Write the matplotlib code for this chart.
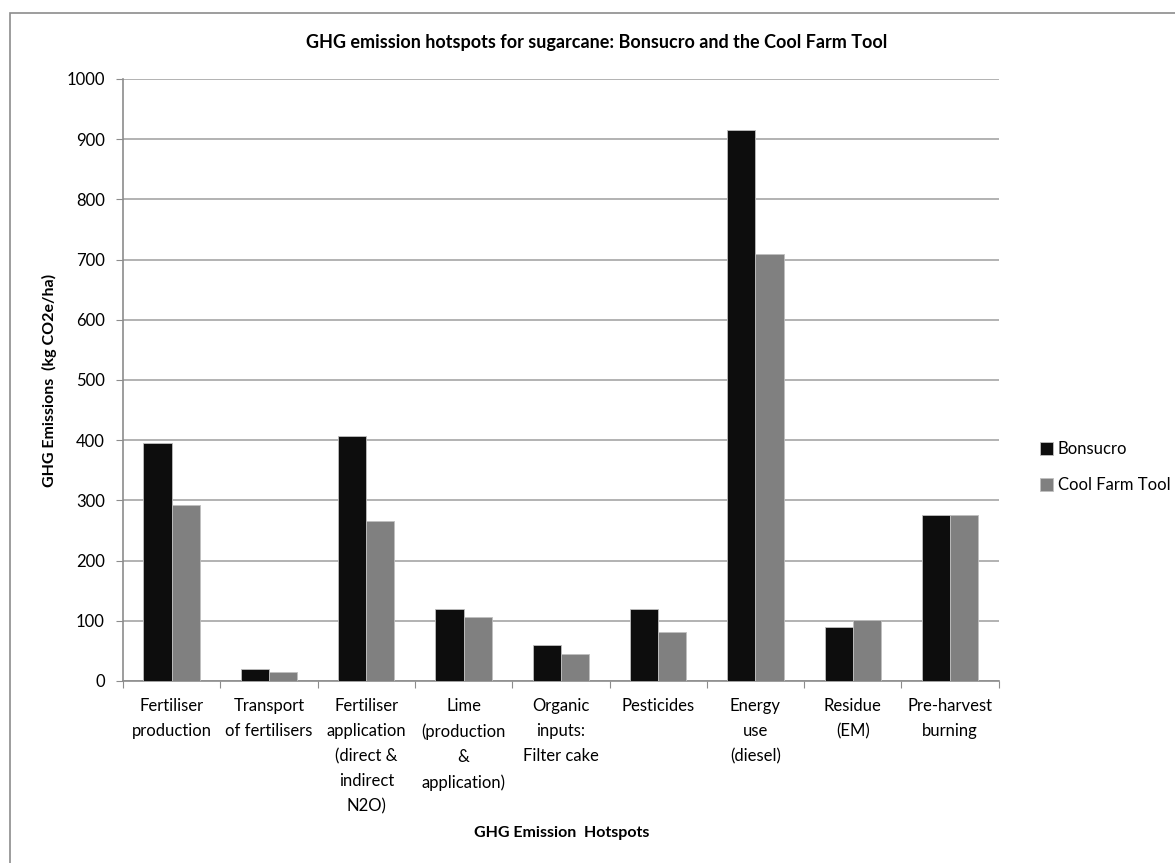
import numpy as np
import matplotlib.pyplot as plt
from matplotlib.patches import Rectangle

plt.rcParams['font.family'] = ['Lato', 'DejaVu Sans']

categories = ["Fertiliser\nproduction", "Transport\nof fertilisers",
              "Fertiliser\napplication\n(direct &\nindirect\nN2O)",
              "Lime\n(production\n&\napplication)", "Organic\ninputs:\nFilter cake",
              "Pesticides", "Energy\nuse\n(diesel)", "Residue\n(EM)", "Pre-harvest\nburning"]
bonsucro = [395, 20, 407, 120, 60, 120, 915, 90, 275]
cool_farm = [292, 15, 266, 106, 45, 81, 709, 101, 275]
yticks = [0, 100, 200, 300, 400, 500, 600, 700, 800, 900, 1000]

fig = plt.figure(figsize=(11.75, 8.63), dpi=100)
ax = fig.add_axes([0.1047, 0.2109, 0.7453, 0.6976])

# outer chart frame
fig.patches.append(Rectangle((0.0085, -0.05), 1.1, 1.035, transform=fig.transFigure,
                             fill=False, edgecolor='#8c8c8c', linewidth=1.2))

x = np.arange(len(categories))
w = 0.29
ax.bar(x - w / 2, bonsucro, w, color='#0d0d0d', edgecolor='#bfbfbf', linewidth=0.6,
       label='Bonsucro', zorder=3)
ax.bar(x + w / 2, cool_farm, w, color='#808080', edgecolor='#bfbfbf', linewidth=0.6,
       label='Cool Farm Tool', zorder=3)

ax.set_xlim(-0.5, len(categories) - 0.5)
ax.set_ylim(0, 1000)
ax.set_yticks(yticks)
ax.yaxis.grid(True, color='#a6a6a6', linewidth=1.2, zorder=0)
ax.set_axisbelow(True)

ax.set_xticks(np.arange(len(categories) + 1) - 0.5)
ax.set_xticklabels([])
ax.set_xticks(x, minor=True)
ax.set_xticklabels(categories, minor=True, fontsize=12, linespacing=1.7, va='top')
ax.tick_params(axis='x', which='minor', length=0, pad=12)
ax.tick_params(axis='x', which='major', length=5, color='#8c8c8c', direction='out')
ax.tick_params(axis='y', length=5, color='#8c8c8c', labelsize=12, pad=8)

for s in ['top', 'right']:
    ax.spines[s].set_visible(False)
for s in ['left', 'bottom']:
    ax.spines[s].set_color('#8c8c8c')
    ax.spines[s].set_linewidth(1.2)

fig.text(0.508, 0.951, "GHG emission hotspots for sugarcane: Bonsucro and the Cool Farm Tool",
         ha='center', va='center', fontsize=13, fontweight='bold')
ax.set_ylabel("GHG Emissions  (kg CO2e/ha)", fontsize=11.5, fontweight='bold', labelpad=7)
fig.text(0.478, 0.035, "GHG Emission  Hotspots", ha='center', va='center',
         fontsize=11.5, fontweight='bold')

ax.legend(loc='center left', bbox_to_anchor=(1.03, 0.355), frameon=False, fontsize=12,
          handlelength=0.75, handleheight=0.75, handletextpad=0.3, labelspacing=1.2)

fig.savefig('out.png', dpi=100)
